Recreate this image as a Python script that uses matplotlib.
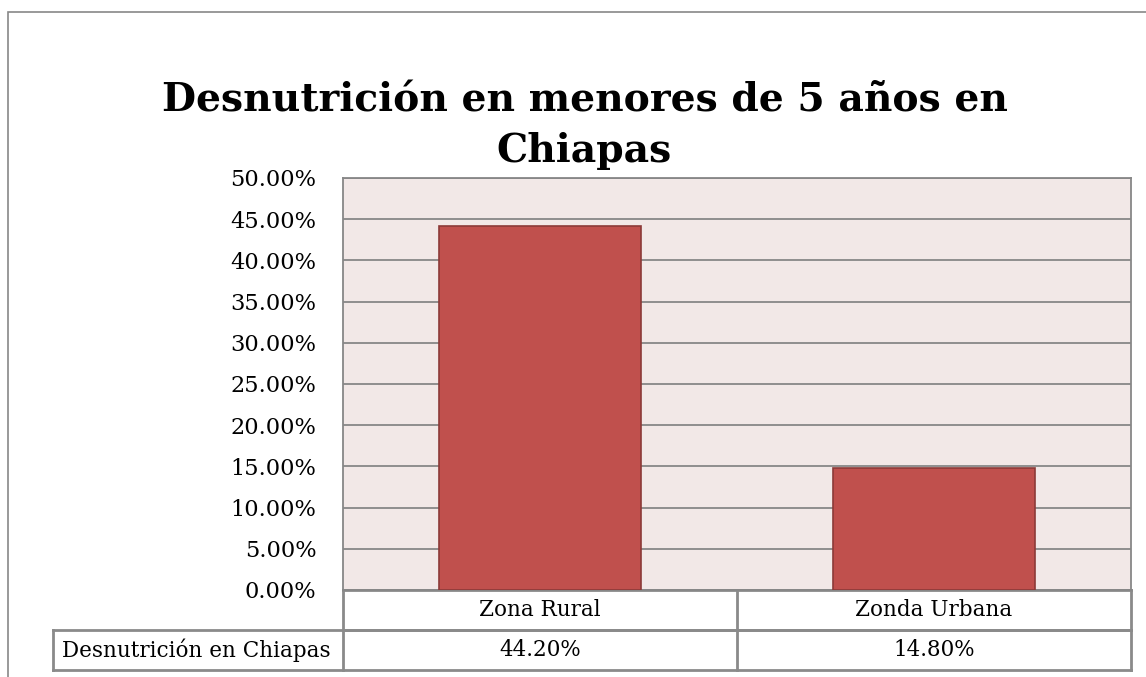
import matplotlib.pyplot as plt
from matplotlib.patches import Rectangle
from matplotlib.lines import Line2D

# data
categories = ['Zona Rural', 'Zonda Urbana']
values = [44.2, 14.8]
series_name = 'Desnutrición en Chiapas'
title = 'Desnutrición en menores de 5 años en\nChiapas'
yticks = [0, 5, 10, 15, 20, 25, 30, 35, 40, 45, 50]

plt.rcParams['font.family'] = ['DejaVu Serif']

W, H = 1146, 677
fig = plt.figure(figsize=(W / 100, H / 100), dpi=100)

# outer chart frame (runs off the right and bottom)
fig.add_artist(Rectangle((8 / W, -0.05), 1.2, 1 - 12 / H + 0.05, transform=fig.transFigure,
                         fill=False, edgecolor='#888888', linewidth=1.2))

fig.text(0.51, 1 - 126 / H, title, ha='center', va='center', fontsize=28.3,
         fontweight='bold', linespacing=1.42)

ax = fig.add_axes([343 / W, 1 - 590 / H, (1131 - 343) / W, (590 - 178) / H])
ax.set_facecolor('#F2E8E7')
x = list(range(len(categories)))
ax.bar(x, values, width=0.515, color='#C0504D', edgecolor='#8C3A38', linewidth=1.2, zorder=3)
ax.set_xlim(-0.5, len(categories) - 0.5)
ax.set_ylim(0, 50)
ax.set_yticks(yticks)
ax.set_yticklabels([f'{v:.2f}%' for v in yticks], fontsize=16.2)
ax.tick_params(axis='y', length=0, pad=19)
ax.set_xticks([])
ax.yaxis.grid(True, color='#878787', linewidth=1.3, zorder=1)
ax.set_axisbelow(True)
for s in ax.spines.values():
    s.set_color('#878787')
    s.set_linewidth(1.3)

# data table under the plot
tr = ax.get_xaxis_transform()
row_h = 40 / (590 - 178)
lc = '#8A8A8A'
lw = 2
label_left = -0.5 - (343 - 53) / 394
edges = [-0.5 + i for i in range(len(categories) + 1)]
# horizontal lines
ax.add_line(Line2D([edges[0], edges[-1]], [-row_h, -row_h], transform=tr, color=lc, lw=lw, clip_on=False))
ax.add_line(Line2D([label_left, edges[-1]], [-row_h, -row_h], transform=tr, color=lc, lw=lw, clip_on=False))
ax.add_line(Line2D([label_left, edges[-1]], [-2 * row_h, -2 * row_h], transform=tr, color=lc, lw=lw, clip_on=False))
ax.add_line(Line2D([edges[0], edges[-1]], [0, 0], transform=tr, color=lc, lw=lw, clip_on=False))
# vertical lines
for e in edges:
    ax.add_line(Line2D([e, e], [0, -2 * row_h], transform=tr, color=lc, lw=lw, clip_on=False))
ax.add_line(Line2D([label_left, label_left], [-row_h, -2 * row_h], transform=tr, color=lc, lw=lw, clip_on=False))

for xi, cat, v in zip(x, categories, values):
    ax.text(xi, -0.5 * row_h, cat, transform=tr, ha='center', va='center', fontsize=15.5)
    ax.text(xi, -1.5 * row_h, f'{v:.2f}%', transform=tr, ha='center', va='center', fontsize=15.5)
ax.text(label_left + 0.022, -1.5 * row_h, series_name, transform=tr, ha='left', va='center', fontsize=15.5)

fig.savefig('out.png', dpi=100)
